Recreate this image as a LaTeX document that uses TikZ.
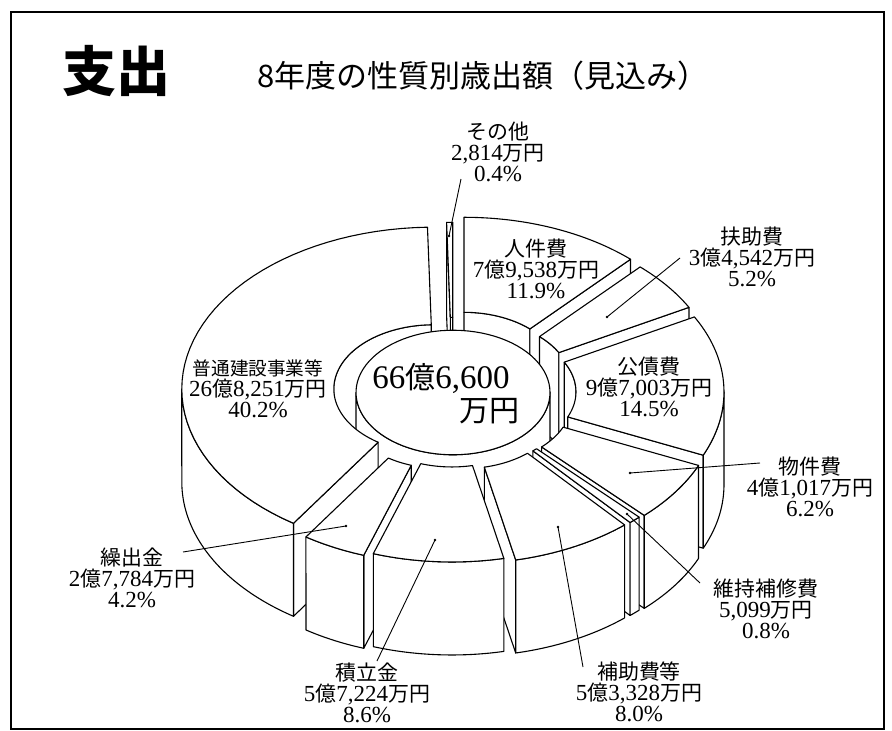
\documentclass[tikz,border=0pt]{standalone}
\usepackage{fontspec}
\setmainfont{Liberation Serif}
\newfontfamily\jp[Scale=0.91]{Noto Sans CJK JP}
\newfontfamily\jpt{Noto Sans CJK JP}
\newcommand\J[1]{{\jp #1}}
\def\cx{453}\def\cy{392.5}\def\kk{0.642}\def\hh{93}
\newcommand\setslice[5]{%
  \pgfmathsetmacro\sa{#1}\pgfmathsetmacro\sb{#2}%
  \pgfmathsetmacro\sR{#3}\pgfmathsetmacro\sr{#4}%
  \pgfmathsetmacro\dX{(#5)*cos(((#1)+(#2))/2)}%
  \pgfmathsetmacro\dY{-\kk*(#5)*sin(((#1)+(#2))/2)}}
\newcommand\Pt[3]{({\cx+\dX+(#2)*cos(#1)},{\cy+\dY-\kk*(#2)*sin(#1)+(#3)})}
\newcommand\PtTo[3]{-- ({\cx+\dX+(#2)*cos(#1)},{\cy+\dY-\kk*(#2)*sin(#1)+(#3)})}
\newcommand\Arc[4]{plot[domain=#1:#2,samples=50,variable=\q]({\cx+\dX+(#3)*cos(\q)},{\cy+\dY-\kk*(#3)*sin(\q)+(#4)})}
\newcommand\ArcTo[4]{-- plot[domain=#1:#2,samples=50,variable=\q]({\cx+\dX+(#3)*cos(\q)},{\cy+\dY-\kk*(#3)*sin(\q)+(#4)})}
\newcommand\TopFace{\filldraw[face] \Arc{\sa}{\sb}{\sR}{0} \ArcTo{\sb}{\sa}{\sr}{0} -- cycle;}
\newcommand\OuterWall[2]{\filldraw[face] \Arc{#1}{#2}{\sR}{0} \ArcTo{#2}{#1}{\sR}{\hh} -- cycle;}
\newcommand\InnerWall[2]{\filldraw[face] \Arc{#1}{#2}{\sr}{0} \ArcTo{#2}{#1}{\sr}{\hh} -- cycle;}
\newcommand\CutFace[1]{\filldraw[face] \Pt{#1}{\sr}{0} \PtTo{#1}{\sR}{0} \PtTo{#1}{\sR}{\hh} \PtTo{#1}{\sr}{\hh} -- cycle;}
\begin{document}
\begin{tikzpicture}[x=1pt,y=-1pt,
  face/.style={fill=white,draw=black,line width=1.1pt,line join=round},
  lbl/.style={align=center,inner sep=0pt,font=\fontsize{23}{21}\selectfont},
  leader/.style={line width=0.9pt}]
\useasboundingbox (0,0) rectangle (892,731);
\fill[white] (0,0) rectangle (892,731);
\draw[line width=1.4pt] (11,12) rectangle (884,729);
% titles
\node[inner sep=0pt] (title) at (116,71) {\jpt\bfseries\fontsize{54}{54}\selectfont 支出};
\node[inner sep=0pt] (subtitle) at (483,76) {\jpt\fontsize{31}{31}\selectfont 8年度の性質別歳出額（見込み）};
% back slices
\setslice{90}{91.44}{245}{97}{20}
\InnerWall{90}{91.44}\CutFace{91.44}\TopFace
\setslice{47.16}{90}{245}{97}{30}
\InnerWall{47.16}{90}\CutFace{47.16}\TopFace
\setslice{28.44}{47.16}{245}{97}{26}
\InnerWall{28.44}{47.16}\CutFace{28.44}\TopFace
\setslice{91.44}{236.16}{252}{100}{20}
\InnerWall{91.44}{180}
\setslice{-23.76}{28.44}{245}{97}{26}
\InnerWall{0}{28.44}
% hub
\def\dX{0}\def\dY{0}
\filldraw[face] \Arc{180}{360}{97}{0} \ArcTo{360}{180}{97}{\hh} -- cycle;
\filldraw[face] plot[domain=0:360,samples=90,variable=\q]({\cx+97*cos(\q)},{\cy-\kk*97*sin(\q)}) -- cycle;
% front parts
\setslice{91.44}{236.16}{252}{100}{20}
\CutFace{236.16}\OuterWall{180}{236.16}\TopFace
\setslice{-23.76}{28.44}{245}{97}{26}
\CutFace{-23.76}\OuterWall{-23.76}{0}\TopFace
\setslice{-46.08}{-23.76}{245}{97}{26}
\CutFace{-46.08}\OuterWall{-46.08}{-23.76}\TopFace
\setslice{-48.96}{-46.08}{245}{97}{24}
\CutFace{-48.96}\OuterWall{-48.96}{-46.08}\TopFace
\setslice{-123.84}{-108.72}{245}{97}{24}
\CutFace{-108.72}\OuterWall{-123.84}{-108.72}\TopFace
\setslice{-77.76}{-48.96}{245}{97}{24}
\CutFace{-77.76}\OuterWall{-77.76}{-48.96}\TopFace
\setslice{-108.72}{-77.76}{245}{97}{19}
\OuterWall{-108.72}{-77.76}\TopFace
% labels
\node[lbl] (Lsonota) at (498,152) {\J{その他}\\2,814\J{万円}\\0.4\%};
\node[lbl] (Ljinken) at (536,269) {\J{人件費}\\7\J{億}9,538\J{万円}\\11.9\%};
\node[lbl] (Lfujo) at (752,257) {\J{扶助費}\\3\J{億}4,542\J{万円}\\5.2\%};
\node[lbl] (Lkosai) at (649,387) {\J{公債費}\\9\J{億}7,003\J{万円}\\14.5\%};
\node[lbl] (Lbukken) at (810,487) {\J{物件費}\\4\J{億}1,017\J{万円}\\6.2\%};
\node[lbl] (Liji) at (766,609) {\J{維持補修費}\\5,099\J{万円}\\0.8\%};
\node[lbl] (Lhojo) at (639,692) {\J{補助費等}\\5\J{億}3,328\J{万円}\\8.0\%};
\node[lbl] (Ltsumi) at (367,693) {\J{積立金}\\5\J{億}7,224\J{万円}\\8.6\%};
\node[lbl] (Lkuri) at (132,578) {\J{繰出金}\\2\J{億}7,784\J{万円}\\4.2\%};
\node[lbl] (Lfutsu) at (258,389) {{\fontsize{20.5}{21}\selectfont\J{普通建設事業等}}\\26\J{億}8,251\J{万円}\\40.2\%};
\node[inner sep=0pt,font=\fontsize{33}{33}\selectfont] (H1) at (441,378) {66{\jp 億}6,600};
\node[inner sep=0pt,font=\fontsize{33}{33}\selectfont,anchor=east] (H2) at (520,411) {{\jp 万円}};
% leaders
\coordinate (a1) at (461,179); \coordinate (b1) at (449,236);
\coordinate (a2) at (680,258); \coordinate (b2) at (607,317);
\coordinate (a3) at (760,463); \coordinate (b3) at (630,473);
\coordinate (a4) at (700,583); \coordinate (b4) at (627,514);
\coordinate (a5) at (583,667); \coordinate (b5) at (558,527);
\coordinate (a6) at (377,661); \coordinate (b6) at (435,540);
\coordinate (a7) at (183,552); \coordinate (b7) at (346,526);
\foreach \i in {1,...,7}{\draw[leader] (a\i) -- (b\i); \fill (b\i) circle (1.3);}
\end{tikzpicture}
\end{document}
